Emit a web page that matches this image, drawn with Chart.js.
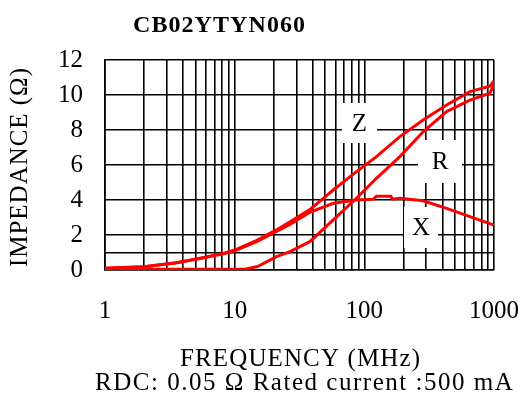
<!DOCTYPE html>
<html><head><meta charset="utf-8">
<script src="https://cdn.jsdelivr.net/npm/chart.js@4/dist/chart.umd.min.js"></script>
<style>html,body{margin:0;padding:0;background:#fff}#wrap{width:523px;height:410px}</style>
</head><body><div id="wrap"><canvas id="c" width="523" height="410"></canvas></div>
<script>
const chartTitle = 'CB02YTYN060';
const xAxisTitle = 'FREQUENCY (MHz)';
const yAxisTitle = 'IMPEDANCE (\u03A9)';
const footerText = 'RDC: 0.05 \u03A9 Rated current :500 mA';
const xGridValues = [1,2,3,4,5,6,7,8,9,10,20,30,40,50,60,70,80,90,100,200,300,400,500,600,700,800,900,1000];
const xTickLabels = ['1','10','100','1000'];
const yGridValues = [0,1,2,4,6,8,10,12];
const yTickLabels = ['0','','2','4','6','8','10','12'];

const zFreq = [1,2,3.57,5.4,8.2,10,14.8,21,26.7,38,57.6,87,124,188,284,431,652,930,1000];
const zVals = [0.1,0.19,0.42,0.67,0.95,1.14,1.7,2.29,2.75,3.45,4.57,5.62,6.48,7.62,8.57,9.43,10.19,10.5,10.8];
const rFreq = [1,12,15,21,26.7,38,57.6,87,124,188,284,431,652,930,1000];
const rVals = [0.05,0.05,0.2,0.76,1.05,1.62,2.86,4.1,5.24,6.48,7.9,9.05,9.71,10.1,10.6];
const xFreq = [1,2,3.57,5.4,8.2,10,14.8,21,26.7,38,57.6,87,118,124,160,165,188,284,431,652,1000];
const xVals = [0.1,0.19,0.42,0.66,0.93,1.1,1.62,2.2,2.6,3.3,3.81,4.0,4.05,4.22,4.22,4.05,4.1,3.96,3.52,3.05,2.57];

const curveLabels = [
  {text:'Z', box:[342,103,377,143]},
  {text:'R', box:[418,140,462,183]},
  {text:'X', box:[404,207,438,248]}
];

const toPts = (fs, vs) => fs.map((f,i)=>({x:f, y:vs[i]}));
const FONT = '"Liberation Serif", "Times New Roman", serif';

function fitText(ctx, text, cx, cy, width){
  ctx.letterSpacing = '0px';
  const w = ctx.measureText(text).width;
  const n = text.length;
  const sp = n > 1 ? (width - w) / (n - 1) : 0;
  ctx.letterSpacing = sp.toFixed(2) + 'px';
  ctx.textAlign = 'left';
  ctx.fillText(text, cx - width/2, cy);
  ctx.letterSpacing = '0px';
}

const textPlugin = {
  id:'texts',
  beforeDatasetsDraw(chart){
    const ctx = chart.ctx;
    ctx.save();
    ctx.font = '25px ' + FONT;
    ctx.textAlign = 'center';
    ctx.textBaseline = 'middle';
    for (const l of curveLabels){
      const b = l.box;
      ctx.fillStyle = '#fff';
      ctx.fillRect(b[0], b[1], b[2]-b[0], b[3]-b[1]);
      ctx.fillStyle = '#000';
      ctx.fillText(l.text, (b[0]+b[2])/2, (b[1]+b[3])/2 + 1);
    }
    ctx.restore();
  },
  afterDraw(chart){
    const ctx = chart.ctx;
    ctx.save();
    ctx.fillStyle = '#000';
    ctx.textBaseline = 'middle';
    ctx.font = 'bold 24px ' + FONT;
    fitText(ctx, chartTitle, 219, 26, 172);
    ctx.font = '25px ' + FONT;
    fitText(ctx, xAxisTitle, 300, 359, 240);
    fitText(ctx, footerText, 304, 383, 418);
    ctx.translate(20, 167.5);
    ctx.rotate(-Math.PI/2);
    fitText(ctx, yAxisTitle, 0, 0, 199);
    ctx.restore();
  }
};

const ds = (label, pts) => ({label, data: pts, borderColor:'#ff0000', backgroundColor:'#ff0000', borderWidth:3, pointRadius:0, tension:0, fill:false});

new Chart(document.getElementById('c'), {
  type:'line',
  data:{datasets:[ds('Z', toPts(zFreq,zVals)), ds('R', toPts(rFreq,rVals)), ds('X', toPts(xFreq,xVals))]},
  options:{
    responsive:false, animation:false, devicePixelRatio:1,
    layout:{padding:{top:60, right:29, left:0, bottom:0}},
    plugins:{legend:{display:false}, title:{display:false}, tooltip:{enabled:false}},
    scales:{
      x:{type:'logarithmic', min:1, max:1000,
        afterBuildTicks(s){ s.ticks = xGridValues.map(v=>({value:v})); },
        afterFit(s){ s.height = 140; s.paddingLeft = 0; s.paddingRight = 0; },
        grid:{color:'#000', lineWidth:1.6, drawTicks:false},
        border:{color:'#000', width:1.6},
        ticks:{autoSkip:false, maxRotation:0, padding:26, color:'#000', font:{family:FONT, size:25},
          callback(v){ const i = [1,10,100,1000].indexOf(v); return i>=0 ? xTickLabels[i] : ''; }}
      },
      y:{type:'linear', min:0, max:12,
        afterBuildTicks(s){ s.ticks = yGridValues.map(v=>({value:v})); },
        afterFit(s){ s.width = 105; s.paddingTop = 0; s.paddingBottom = 0; },
        grid:{color:'#000', lineWidth:1.6, drawTicks:false},
        border:{color:'#000', width:1.6},
        ticks:{autoSkip:false, padding:22, color:'#000', font:{family:FONT, size:25},
          callback(v){ const i = yGridValues.indexOf(v); return i>=0 ? yTickLabels[i] : ''; }}
      }
    }
  },
  plugins:[textPlugin]
});
</script></body></html>
